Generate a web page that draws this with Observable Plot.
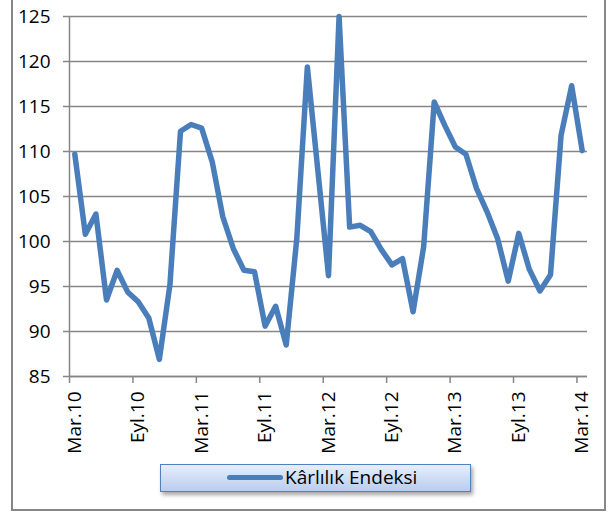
<!DOCTYPE html>
<html><head><meta charset="utf-8">
<script src="https://cdn.jsdelivr.net/npm/d3@7"></script>
<script src="https://cdn.jsdelivr.net/npm/@observablehq/plot@0.6"></script>
<style>
body{margin:0;background:#fff;font-family:"Open Sans",sans-serif;}
#wrap{position:relative;width:609px;height:512px;overflow:hidden;background:#fff;}
#frame{position:absolute;left:11px;top:-4px;width:595px;height:515px;border:2px solid #878787;box-sizing:border-box;}
#chart{position:absolute;left:0;top:0;}
#legend{position:absolute;left:160px;top:464px;width:311px;height:28px;box-sizing:border-box;border:1.5px solid #4f81bd;background:linear-gradient(#e6eefb,#b9cdef);box-shadow:2px 3px 4px rgba(0,0,0,0.35);}
#legend .sw{position:absolute;left:66px;top:10px;width:56px;height:5px;border-radius:3px;background:#4a7ebb;}
#legend .tx{position:absolute;left:124px;top:0px;font-size:19px;line-height:24px;color:#000;white-space:nowrap;}
</style></head>
<body>
<div id="wrap">
  <div id="frame"></div>
  <div id="chart"></div>
  <div id="legend"><div class="sw"></div><div class="tx"></div></div>
</div>
<script>
const seriesName = "Kârlılık Endeksi";
const values = [
  109.7, 100.8, 103.05, 93.5, 96.8, 94.4, 93.3, 91.5, 86.9, 95.2,
  112.25, 113.0, 112.6, 108.85, 102.75, 99.2, 96.8, 96.65, 90.6, 92.8,
  88.5, 100.3, 119.4, 107.8, 96.2, 125, 101.6, 101.8, 101.1, 99.1,
  97.4, 98.1, 92.2, 99.4, 115.5, 112.9, 110.5, 109.7, 105.9, 103.3,
  100.3, 95.6, 100.9, 96.9, 94.5, 96.3, 111.8, 117.3, 110.1
];
const tickLabels = ["Mar.10","Eyl.10","Mar.11","Eyl.11","Mar.12","Eyl.12","Mar.13","Eyl.13","Mar.14"];
const yTicks = [85, 90, 95, 100, 105, 110, 115, 120, 125];
const labelStep = 6;

const data = values.map((v, i) => ({i: i + 0.5, v}));
const tickPos = tickLabels.map((_, k) => k * labelStep);
const labelPos = tickLabels.map((_, k) => k * labelStep + 0.5);

const chart = Plot.plot({
  width: 609,
  height: 460,
  marginLeft: 69,
  marginRight: 22,
  marginTop: 16,
  marginBottom: 84,
  x: {domain: [0, values.length], axis: null},
  y: {domain: [85, 125], axis: null},
  style: {fontFamily: "'Open Sans', sans-serif", fontSize: "19px", color: "#000", background: "transparent", overflow: "visible"},
  marks: [
    Plot.gridY(yTicks, {stroke: "#868686", strokeOpacity: 1, strokeWidth: 1.5}),
    Plot.axisY(yTicks, {label: null, tickSize: 6, tickPadding: 13, stroke: "#868686", strokeWidth: 1.5, fontSize: 19}),
    Plot.ruleX([0], {stroke: "#868686", strokeWidth: 1.5}),
    Plot.ruleY([85], {stroke: "#868686", strokeWidth: 1.5}),
    Plot.axisX(tickPos, {label: null, tickSize: 7, tickFormat: () => "", stroke: "#868686", strokeWidth: 1.5}),
    Plot.axisX(labelPos, {label: null, tickSize: 0, tickRotate: -90, tickPadding: 15, fontSize: 19,
      tickFormat: d => tickLabels[Math.round((d - 0.5) / labelStep)]}),
    Plot.lineY(data, {x: "i", y: "v", stroke: "#4a7ebb", strokeWidth: 5.5, strokeLinejoin: "round", strokeLinecap: "round"})
  ]
});
document.getElementById("chart").appendChild(chart);
document.querySelector("#legend .tx").textContent = seriesName;
</script>
</body></html>
